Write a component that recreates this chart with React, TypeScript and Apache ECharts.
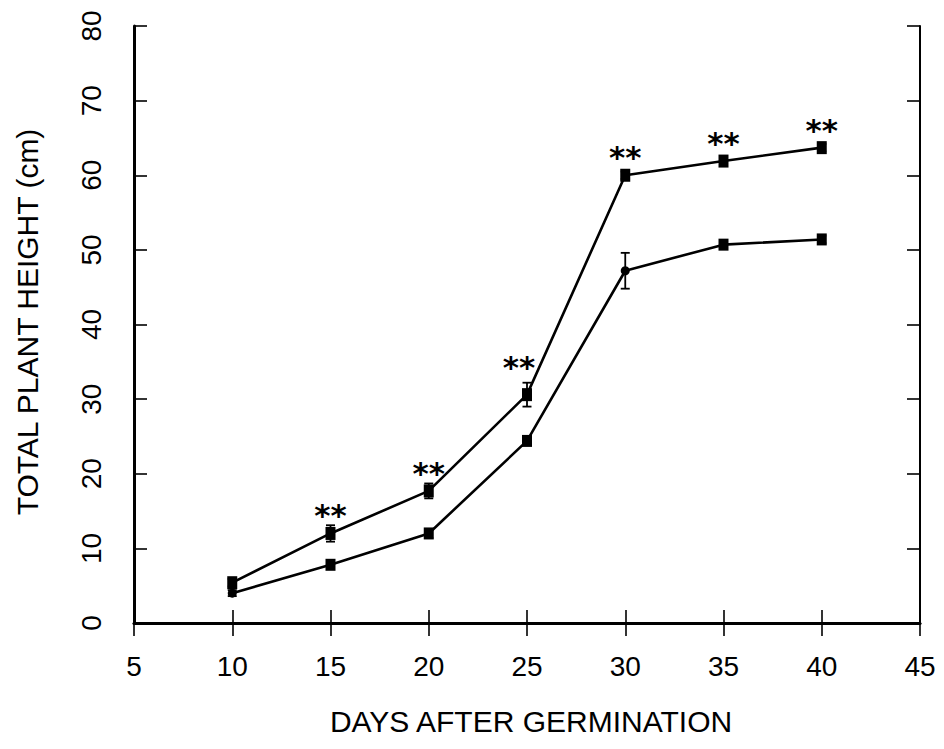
import React, { useEffect, useRef } from "react";
import * as echarts from "echarts";

const days = [10, 15, 20, 25, 30, 35, 40];
const treated = [5.4, 12.0, 17.7, 30.6, 60.0, 61.9, 63.7];
const treatedErr = [0.5, 1.1, 1.0, 1.6, 0.5, 0.5, 0.5];
const control = [4.0, 7.8, 12.0, 24.4, 47.2, 50.7, 51.4];
const controlErr = [0.4, 0.5, 0.6, 0.5, 2.4, 0.6, 0.5];
const significance = ["", "**", "**", "**", "**", "**", "**"];
const xTitle = "DAYS AFTER GERMINATION";
const yTitle = "TOTAL PLANT HEIGHT (cm)";

const FONT = "'Liberation Sans', Arial, Helvetica, sans-serif";

function errRender(params: any, api: any) {
  const x = api.value(0);
  const y = api.value(1);
  const e = api.value(2);
  const hi = api.coord([x, y + e]);
  const lo = api.coord([x, y - e]);
  const w = 4.5;
  const st = { stroke: "#000", lineWidth: 1.8 };
  return {
    type: "group",
    children: [
      { type: "line", shape: { x1: hi[0], y1: hi[1], x2: lo[0], y2: lo[1] }, style: st },
      { type: "line", shape: { x1: hi[0] - w, y1: hi[1], x2: hi[0] + w, y2: hi[1] }, style: st },
      { type: "line", shape: { x1: lo[0] - w, y1: lo[1], x2: lo[0] + w, y2: lo[1] }, style: st },
    ],
  };
}

export default function App() {
  const ref = useRef<HTMLDivElement>(null);
  useEffect(() => {
    if (!ref.current) return;
    const chart = echarts.init(ref.current, null, { renderer: "svg" });
    const axisLbl = { color: "#000", fontSize: 28, fontFamily: FONT, margin: 29 };
    const tick = { show: true, inside: true, length: 13, lineStyle: { color: "#000", width: 1.6 } };
    const option: any = {
      animation: false,
      backgroundColor: "#fff",
      grid: { left: 134, right: 24, top: 26, bottom: 126 },
      xAxis: [
        {
          type: "value", min: 5, max: 45, interval: 5, position: "bottom",
          axisLine: { show: true, lineStyle: { color: "#000", width: 3 } },
          axisTick: tick,
          axisLabel: { ...axisLbl, showMinLabel: true, showMaxLabel: true },
          splitLine: { show: false },
        },
        {
          type: "value", min: 5, max: 45, interval: 5, position: "top",
          axisLine: { show: true, lineStyle: { color: "#000", width: 2.5 } },
          axisTick: tick,
          axisLabel: { show: false },
          splitLine: { show: false },
        },
      ],
      yAxis: [
        {
          type: "value", min: 0, max: 80, interval: 10, position: "left",
          axisLine: { show: true, lineStyle: { color: "#000", width: 3 } },
          axisTick: tick,
          axisLabel: { ...axisLbl, rotate: 90, showMinLabel: true, showMaxLabel: true },
          splitLine: { show: false },
        },
        {
          type: "value", min: 0, max: 80, interval: 10, position: "right",
          axisLine: { show: true, lineStyle: { color: "#000", width: 2 } },
          axisTick: tick,
          axisLabel: { show: false },
          splitLine: { show: false },
        },
      ],
      series: [
        {
          type: "custom",
          renderItem: errRender,
          data: days.map((d, i) => [d, treated[i], treatedErr[i]]),
          z: 3,
        },
        {
          type: "custom",
          renderItem: errRender,
          data: days.map((d, i) => [d, control[i], controlErr[i]]),
          z: 3,
        },
        {
          type: "line",
          data: days.map((d, i) => ({
            value: [d, treated[i]],
            label: {
              show: significance[i] !== "",
              formatter: significance[i],
              offset: i === 3 ? [-8, -4] : [0, 6],
            },
          })),
          symbol: "rect",
          symbolSize: [10, 13],
          lineStyle: { color: "#000", width: 2.6 },
          itemStyle: { color: "#000" },
          label: {
            position: "top",
            distance: 2,
            color: "#000",
            fontSize: 31,
            fontFamily: "'DejaVu Sans', sans-serif",
            fontWeight: "bold",
          },
          z: 4,
        },
        {
          type: "line",
          data: days.map((d, i) => ({
            value: [d, control[i]],
            symbol: i === 4 || i === 0 ? "circle" : "rect",
            symbolSize: i === 4 || i === 0 ? 9 : [10, 12],
          })),
          lineStyle: { color: "#000", width: 2.6 },
          itemStyle: { color: "#000" },
          z: 4,
        },
      ],
      graphic: [
        {
          type: "text",
          x: 531,
          y: 721,
          style: {
            text: xTitle,
            fill: "#000",
            fontSize: 30,
            fontFamily: FONT,
            align: "center",
            verticalAlign: "middle",
          },
        },
        {
          type: "text",
          x: 27,
          y: 322,
          rotation: Math.PI / 2,
          style: {
            text: yTitle,
            fill: "#000",
            fontSize: 30,
            fontFamily: FONT,
            align: "center",
            verticalAlign: "middle",
          },
        },
      ],
    };
    chart.setOption(option);
    return () => chart.dispose();
  }, []);
  return (
    <div
      ref={ref}
      style={{ position: "fixed", left: 0, top: 0, width: 944, height: 749, background: "#fff" }}
    />
  );
}
